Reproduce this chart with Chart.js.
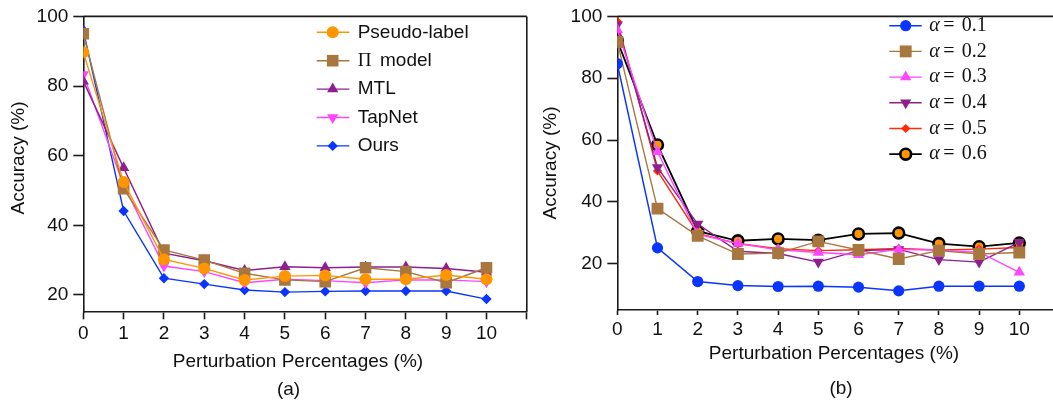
<!DOCTYPE html>
<html><head><meta charset="utf-8">
<script src="https://cdn.jsdelivr.net/npm/chart.js@4/dist/chart.umd.min.js"></script>
<style>
html,body{margin:0;padding:0;background:#fff;overflow:hidden;width:1053px;height:404px;position:relative}
#wa{position:absolute;left:0;top:0;width:535px;height:404px}
#wb{position:absolute;left:530px;top:0;width:540px;height:404px}
</style></head><body>
<div id="wa"><canvas id="ca"></canvas></div>
<div id="wb"><canvas id="cb"></canvas></div>
<script>
// ---------- data ----------
const percentages = [0,1,2,3,4,5,6,7,8,9,10];
const xTickValues = [0,1,2,3,4,5,6,7,8,9,10,11];
const xTickLabels = ['0','1','2','3','4','5','6','7','8','9','10',''];
const yTickValues = [20,40,60,80,100];

// (a) methods
const pseudoLabel = [89.7, 52.4, 30.2, 27.6, 24.3, 25.4, 25.6, 24.5, 24.5, 25.7, 24.5];
const piModel     = [95.0, 50.5, 32.9, 30.0, 26.2, 24.3, 23.8, 27.8, 26.7, 23.5, 27.8];
const mtl         = [81.4, 56.5, 32.0, 29.8, 27.0, 28.1, 27.8, 28.0, 28.0, 27.6, 26.5];
const tapNet      = [83.3, 51.5, 28.3, 26.7, 23.5, 24.5, 24.1, 23.5, 24.3, 24.3, 23.8];
const ours        = [96.0, 44.1, 24.8, 23.1, 21.4, 20.8, 21.0, 21.1, 21.1, 21.1, 18.8];

// (b) alpha values
const alpha01 = [84.7, 25.1, 14.2, 12.9, 12.6, 12.7, 12.4, 11.2, 12.7, 12.7, 12.7];
const alpha02 = [91.7, 37.8, 29.0, 23.1, 23.4, 27.2, 24.4, 21.5, 24.2, 23.1, 23.6];
const alpha03 = [95.7, 56.2, 29.5, 26.5, 24.5, 23.6, 22.9, 24.6, 24.4, 23.7, 17.2];
const alpha04 = [97.3, 51.1, 32.8, 24.0, 23.3, 20.5, 24.2, 24.6, 21.3, 20.5, 26.9];
const alpha05 = [98.4, 50.0, 29.8, 26.5, 24.8, 24.2, 24.5, 24.9, 24.4, 24.7, 25.2];
const alpha06 = [92.2, 58.4, 30.5, 27.4, 28.0, 27.6, 29.6, 29.9, 26.5, 25.5, 26.7];

const methodNames = ['Pseudo-label','Π model','MTL','TapNet','Ours'];
const alphaNames = ['0.1','0.2','0.3','0.4','0.5','0.6'];

// ---------- helpers ----------
const SANS = '"Liberation Sans", Arial, Helvetica, sans-serif';
const SERIF = '"Liberation Serif", "Times New Roman", serif';
const AXIS = '#1a1a1a';
const pts = arr => percentages.map((x,i)=>({x:x, y:arr[i]}));

function drawMarker(ctx, st, x, y){
  const o = {pointStyle: st.pointStyle, radius: st.pointRadius, rotation: st.pointRotation||0, borderWidth: st.pointBorderWidth||0};
  ctx.save();
  ctx.fillStyle = st.pointBackgroundColor;
  ctx.strokeStyle = st.pointBorderColor || st.pointBackgroundColor;
  ctx.lineWidth = o.borderWidth;
  Chart.helpers.drawPoint(ctx, o, x, y);
  ctx.restore();
}

function makeDecor(cfg){
  return {
    id:'decor',
    beforeDatasetsDraw(chart){
      const a = chart.chartArea, ctx = chart.ctx;
      ctx.save();
      ctx.strokeStyle = AXIS; ctx.lineWidth = 1.6;
      ctx.beginPath();
      ctx.moveTo(a.left, a.top); ctx.lineTo(a.right, a.top);
      ctx.moveTo(a.right, a.top); ctx.lineTo(a.right, a.bottom);
      ctx.stroke();
      ctx.restore();
    },
    afterDraw(chart){
      const ctx = chart.ctx;
      ctx.save();
      ctx.fillStyle = '#111';
      ctx.textBaseline = 'middle';
      ctx.font = '19px ' + SANS;
      // y title
      ctx.save();
      ctx.translate(cfg.yTitle[0], cfg.yTitle[1]);
      ctx.rotate(-Math.PI/2);
      ctx.textAlign = 'center';
      ctx.fillText('Accuracy (%)', 0, 0);
      ctx.restore();
      ctx.textAlign = 'center';
      ctx.fillText('Perturbation Percentages (%)', cfg.xTitle[0], cfg.xTitle[1]);
      ctx.fillText(cfg.caption, cfg.cap[0], cfg.cap[1]);
      // legend
      const L = cfg.legend;
      chart.data.datasets.forEach((ds, i) => {
        const y = L.y0 + i*L.dy;
        ctx.save();
        ctx.strokeStyle = ds.borderColor; ctx.lineWidth = ds.borderWidth;
        ctx.beginPath(); ctx.moveTo(L.x0, y); ctx.lineTo(L.x1, y); ctx.stroke();
        ctx.restore();
        drawMarker(ctx, ds, L.xm, y);
        ctx.textAlign = 'left';
        L.drawText(ctx, i, y);
      });
      ctx.restore();
    }
  };
}

function axes(o){
  return {
    x:{type:'linear', min:0, max:11,
      afterBuildTicks:s=>{s.ticks = xTickValues.map(v=>({value:v}));},
      afterFit:s=>{s.height = o.xh;},
      grid:{display:true, drawOnChartArea:false, drawTicks:true, tickLength:o.xtl, tickWidth:1.6, tickColor:AXIS},
      border:{display:true, color:AXIS, width:1.6},
      ticks:{font:{family:SANS,size:19}, color:'#111', padding:o.xpad, maxRotation:0, autoSkip:false,
        callback:(v)=>xTickLabels[xTickValues.indexOf(v)]}
    },
    y:{type:'linear', min:o.ymin, max:100,
      afterBuildTicks:s=>{s.ticks = yTickValues.map(v=>({value:v}));},
      afterFit:s=>{s.width = o.yw;},
      grid:{display:true, drawOnChartArea:false, drawTicks:true, tickLength:10, tickWidth:1.6, tickColor:AXIS},
      border:{display:true, color:AXIS, width:1.6},
      ticks:{font:{family:SANS,size:19}, color:'#111', padding:5, autoSkip:false}
    }
  };
}

function series(label, arr, color, style, radius, extra){
  return Object.assign({
    label:label, data:pts(arr), borderColor:color, borderWidth:1.4,
    pointStyle:style, pointRadius:radius, pointHoverRadius:radius,
    pointBackgroundColor:color, pointBorderColor:color, pointBorderWidth:0,
    tension:0, fill:false
  }, extra||{});
}

const ORANGE = '#ff9500', BROWN = '#a8773f', PURPLE = '#8e1f8e', MAGENTA = '#ff45ff', BLUE = '#0a35ff', RED = '#ff2a00';

// ---------- chart (a) ----------
new Chart(document.getElementById('ca'), {
  type:'line',
  data:{datasets:[
    series(methodNames[0], pseudoLabel, ORANGE, 'circle', 6),
    series(methodNames[1], piModel, BROWN, 'rect', 8.2),
    series(methodNames[2], mtl, PURPLE, 'triangle', 6.5),
    series(methodNames[3], tapNet, MAGENTA, 'triangle', 6.5, {pointRotation:180}),
    series(methodNames[4], ours, BLUE, 'rectRot', 5.2)
  ]},
  options:{
    responsive:true, maintainAspectRatio:false, animation:false,
    layout:{padding:{left:0, right:7.3, top:15, bottom:0}},
    plugins:{legend:{display:false}, tooltip:{enabled:false}},
    scales:axes({xh:91.7, xtl:7, xpad:3, ymin:15, yw:83.3})
  },
  plugins:[makeDecor({
    yTitle:[18.5,158], xTitle:[298,362], cap:[288.5,390], caption:'(a)',
    legend:{x0:316.7, x1:349.3, xm:332.7, y0:32.3, dy:28.4,
      drawText:(ctx,i,y)=>{
        if(i===1){
          ctx.font = '19px ' + SERIF; ctx.fillText('Π', 357.7, y);
          ctx.font = '19px ' + SANS; ctx.fillText('model', 380, y);
        } else {
          ctx.font = '19px ' + SANS; ctx.fillText(methodNames[i], 357.7, y);
        }
      }}
  })]
});

// ---------- chart (b) ----------
new Chart(document.getElementById('cb'), {
  type:'line',
  data:{datasets:[
    series('α = '+alphaNames[0], alpha01, BLUE, 'circle', 5.6, {borderWidth:1.5}),
    series('α = '+alphaNames[1], alpha02, BROWN, 'rect', 8.4),
    series('α = '+alphaNames[2], alpha03, MAGENTA, 'triangle', 6.5),
    series('α = '+alphaNames[3], alpha04, PURPLE, 'triangle', 6.5, {pointRotation:180}),
    series('α = '+alphaNames[4], alpha05, RED, 'rectRot', 4.6),
    series('α = '+alphaNames[5], alpha06, '#000', 'circle', 5.4,
      {borderWidth:1.8, pointBackgroundColor:ORANGE, pointBorderColor:'#000', pointBorderWidth:2.6})
  ]},
  options:{
    responsive:true, maintainAspectRatio:false, animation:false,
    layout:{padding:{left:0, right:10.5, top:15, bottom:0}},
    plugins:{legend:{display:false}, tooltip:{enabled:false}},
    scales:axes({xh:94, xtl:5, xpad:3, ymin:5, yw:87.3})
  },
  plugins:[makeDecor({
    yTitle:[21,163], xTitle:[304,353.3], cap:[311,388.3], caption:'(b)',
    legend:{x0:359.3, x1:391.7, xm:375.7, y0:25.7, dy:25.7,
      drawText:(ctx,i,y)=>{
        ctx.font = 'italic 20px ' + SERIF; ctx.fillText('α', 399.3, y);
        ctx.font = '20px ' + SERIF; ctx.fillText('=', 413.3, y);
        ctx.fillText(alphaNames[i], 431.7, y);
      }}
  })]
});
</script>
</body></html>
